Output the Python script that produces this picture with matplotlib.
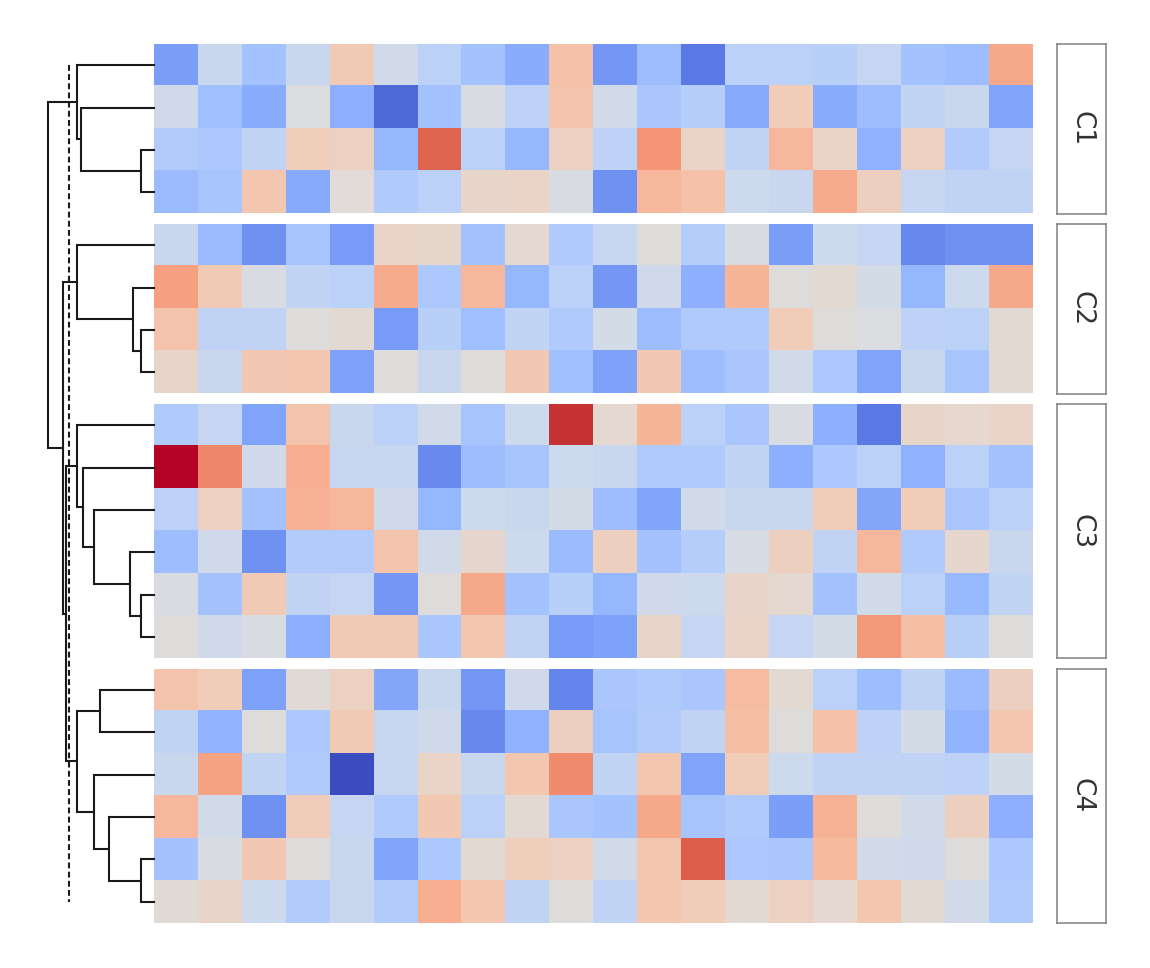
import numpy as np
import matplotlib
matplotlib.use("Agg")
import matplotlib.pyplot as plt

# ---------------- data ----------------
group_labels = ["C1", "C2", "C3", "C4"]

c1_values = [
    [-1.8, -0.4, -1.1, -0.4, 0.6, -0.25, -0.7, -1.1, -1.55, 0.8, -1.9, -1.2, -2.35, -0.7, -0.7, -0.75, -0.5, -1.1, -1.2, 1.25],
    [-0.3, -1.15, -1.55, -0.05, -1.5, -2.6, -1.1, -0.1, -0.65, 0.75, -0.25, -1.0, -0.8, -1.6, 0.55, -1.55, -1.2, -0.55, -0.4, -1.7],
    [-0.85, -0.95, -0.6, 0.5, 0.4, -1.35, 2.2, -0.7, -1.35, 0.4, -0.65, 1.55, 0.35, -0.6, 1.0, 0.35, -1.45, 0.4, -0.85, -0.5],
    [-1.25, -1.05, 0.7, -1.6, 0.1, -0.9, -0.7, 0.3, 0.35, -0.1, -2.0, 1.0, 0.8, -0.35, -0.4, 1.2, 0.45, -0.45, -0.6, -0.6],
]
c2_values = [
    [-0.4, -1.25, -2.0, -1.05, -1.85, 0.35, 0.28, -1.1, 0.2, -0.9, -0.45, 0.0, -0.8, -0.1, -1.8, -0.35, -0.5, -2.15, -2.0, -2.0],
    [1.4, 0.6, -0.1, -0.55, -0.7, 1.2, -0.95, 1.0, -1.35, -0.7, -1.9, -0.3, -1.5, 1.05, 0.0, 0.15, -0.2, -1.35, -0.35, 1.25],
    [0.75, -0.6, -0.6, 0.0, 0.15, -1.85, -0.75, -1.15, -0.55, -0.9, -0.2, -1.2, -0.9, -0.9, 0.55, 0.0, -0.05, -0.65, -0.7, 0.15],
    [0.3, -0.4, 0.65, 0.7, -1.75, 0.0, -0.4, 0.0, 0.65, -1.15, -1.75, 0.65, -1.2, -1.0, -0.25, -0.95, -1.7, -0.4, -1.05, 0.15],
]
c3_values = [
    [-0.9, -0.5, -1.7, 0.75, -0.4, -0.7, -0.25, -1.05, -0.35, 2.7, 0.2, 1.05, -0.7, -1.0, -0.1, -1.5, -2.35, 0.3, 0.22, 0.35],
    [3.0, 1.75, -0.3, 1.15, -0.45, -0.45, -2.1, -1.2, -1.05, -0.35, -0.4, -0.9, -0.9, -0.55, -1.5, -0.95, -0.7, -1.45, -0.7, -1.1],
    [-0.65, 0.4, -1.1, 1.1, 1.0, -0.3, -1.35, -0.35, -0.4, -0.2, -1.2, -1.7, -0.25, -0.4, -0.4, 0.55, -1.65, 0.55, -1.0, -0.7],
    [-1.2, -0.3, -2.0, -0.85, -0.85, 0.75, -0.25, 0.25, -0.35, -1.25, 0.45, -1.1, -0.8, -0.15, 0.45, -0.6, 1.0, -0.9, 0.25, -0.4],
    [-0.1, -1.1, 0.6, -0.6, -0.5, -1.9, 0.0, 1.25, -1.1, -0.75, -1.35, -0.3, -0.35, 0.3, 0.2, -1.1, -0.25, -0.7, -1.3, -0.55],
    [0.0, -0.3, -0.1, -1.5, 0.6, 0.6, -1.0, 0.7, -0.6, -1.85, -1.75, 0.3, -0.5, 0.35, -0.5, -0.2, 1.5, 0.85, -0.75, 0.0],
]
c4_values = [
    [0.75, 0.55, -1.75, 0.08, 0.4, -1.65, -0.4, -1.9, -0.3, -2.2, -1.0, -0.9, -1.0, 0.9, 0.15, -0.7, -1.2, -0.6, -1.25, 0.45],
    [-0.6, -1.4, 0.0, -0.95, 0.6, -0.45, -0.3, -2.15, -1.45, 0.45, -1.05, -0.85, -0.6, 0.85, 0.0, 0.8, -0.65, -0.2, -1.4, 0.7],
    [-0.4, 1.35, -0.55, -0.9, -3.0, -0.45, 0.35, -0.4, 0.7, 1.7, -0.55, 0.7, -1.7, 0.55, -0.35, -0.6, -0.6, -0.6, -0.65, -0.2],
    [1.0, -0.25, -2.0, 0.55, -0.5, -0.9, 0.65, -0.7, 0.15, -1.0, -1.1, 1.25, -1.05, -0.9, -1.8, 1.1, 0.0, -0.25, 0.45, -1.5],
    [-1.1, -0.1, 0.65, 0.0, -0.4, -1.7, -0.95, 0.15, 0.5, 0.4, -0.25, 0.7, 2.25, -0.95, -1.0, 0.95, -0.25, -0.3, 0.0, -0.95],
    [0.08, 0.3, -0.35, -0.85, -0.4, -0.85, 1.15, 0.7, -0.6, 0.0, -0.6, 0.7, 0.55, 0.15, 0.4, 0.2, 0.7, 0.15, -0.25, -0.9],
]
group_values = [c1_values, c2_values, c3_values, c4_values]

# dendrogram linkage over the 20 displayed rows (ids >= 20 are earlier merges)
linkage = [
    (2, 3, 1.26), (1, 20, 6.93), (0, 21, 7.31),                                   # C1
    (6, 7, 1.26), (5, 23, 2.02), (4, 24, 7.31),                                   # C2
    (12, 13, 1.26), (11, 26, 2.27), (10, 27, 5.68), (9, 28, 6.69), (8, 29, 7.31), # C3
    (14, 15, 5.14), (18, 19, 1.26), (17, 32, 4.29), (16, 33, 5.65), (31, 34, 7.31), # C4
    (30, 35, 8.37), (25, 36, 8.58), (22, 37, 10.0),
]
cut_height = 8.04

# ---------------- layout (pixels) ----------------
W, H = 1150, 968
heat_left, heat_right = 154, 1033
top, bottom = 44, 923
gap = 10.5
n_rows = sum(len(g) for g in group_values)
row_h = (bottom - top - gap * (len(group_values) - 1)) / n_rows
box_left, box_right = 1057, 1106
dend_left = 40

fig = plt.figure(figsize=(W / 100, H / 100), dpi=100)

def px_axes(x0, y0, x1, y1):
    return fig.add_axes([x0 / W, 1 - y1 / H, (x1 - x0) / W, (y1 - y0) / H])

cmap = plt.get_cmap("coolwarm")
leaf_y = []
y = top
for vals, lab in zip(group_values, group_labels):
    arr = np.array(vals)
    y_end = y + row_h * arr.shape[0]
    ax = px_axes(heat_left, y, heat_right, y_end)
    ax.imshow(arr, cmap=cmap, vmin=-3, vmax=3, aspect="auto", interpolation="nearest")
    ax.set_xticks([]); ax.set_yticks([])
    for s in ax.spines.values():
        s.set_visible(False)
    for i in range(arr.shape[0]):
        leaf_y.append(y + (i + 0.5) * row_h)
    bax = px_axes(box_left, y, box_right, y_end)
    bax.set_xticks([]); bax.set_yticks([])
    for s in bax.spines.values():
        s.set_color("#808080"); s.set_linewidth(1.1)
    bax.text(0.5, 0.5, lab, rotation=270, ha="center", va="center",
             fontsize=19, color="#333333", transform=bax.transAxes)
    y = y_end + gap

# ---------------- dendrogram ----------------
root_h = max(h for _, _, h in linkage)
dax = px_axes(dend_left, top, heat_left, bottom)
dax.set_ylim(bottom, top)
dax.set_xlim(root_h * (heat_left - dend_left) / 105.7, 0)
dax.axis("off")

node_y = list(leaf_y)
node_h = [0.0] * len(leaf_y)
lc = "#1a1a1a"
for a, b, h in linkage:
    ya, yb = node_y[a], node_y[b]
    dax.plot([node_h[a], h, h, node_h[b]], [ya, ya, yb, yb], color=lc, lw=1.5,
             solid_joinstyle="miter", clip_on=False)
    node_y.append((ya + yb) / 2)
    node_h.append(h)

dax.plot([cut_height, cut_height], [leaf_y[0], leaf_y[-1]], color=lc, lw=1.5,
         linestyle=(0, (2.8, 1.6)), clip_on=False)

fig.savefig("out.png", dpi=100)
